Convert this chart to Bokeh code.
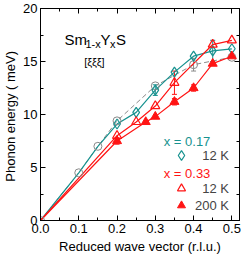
from bokeh.plotting import figure
from bokeh.models import (Range1d, LinearAxis, Label, Legend, LegendItem, Whisker,
                          ColumnDataSource, TeeHead, SingleIntervalTicker, NumeralTickFormatter,
                          CustomJSTickFormatter)
from bokeh.embed import file_html
from bokeh.resources import INLINE

# ---- data ----
q_ref = [0.0, 0.1, 0.15, 0.2, 0.3, 0.4, 0.5]
e_ref = [0.0, 4.5, 7.0, 9.4, 12.7, 14.7, 15.4]
err_ref = [0.0, 0.0, 0.0, 0.0, 0.0, 0.6, 0.0]

q_x17 = [0.2, 0.25, 0.3, 0.35, 0.4, 0.45, 0.5]
e_x17 = [9.1, 10.2, 12.3, 14.0, 15.5, 16.0, 16.2]
err_x17 = [0.0, 0.0, 0.5, 0.0, 0.0, 1.0, 0.0]

q_x33_12 = [0.2, 0.25, 0.3, 0.35, 0.45, 0.5]
e_x33_12 = [8.0, 9.3, 10.8, 13.0, 16.6, 17.0]
err_x33_12 = [0.0, 0.0, 0.0, 1.1, 0.0, 0.0]

q_x33_200 = [0.2, 0.275, 0.3, 0.35, 0.4, 0.45, 0.5]
e_x33_200 = [7.5, 9.3, 9.8, 11.2, 12.5, 14.8, 15.5]
err_x33_200 = [0.3, 0.0, 0.0, 0.3, 0.3, 0.0, 0.0]

x_ticks_label_format = "0.0"
xlabel = "Reduced wave vector (r.l.u.)"
ylabel = "Phonon energy  ( meV)"
series_labels = ["x = 0.17", "x = 0.33"]
temp_labels = ["\u200712 K", "\u200712 K", "200 K"]

TEAL = "#17928f"
RED = "#ff1414"
GRAY = "#8a8a8a"
FONT = "Liberation Sans"

p = figure(width=241, height=256, output_backend="svg", toolbar_location=None,
           x_range=Range1d(0, 0.52), y_range=Range1d(0, 20),
           min_border_left=0, min_border_right=2, min_border_top=8, min_border_bottom=0)
p.grid.visible = False
p.outline_line_color = "black"
p.outline_line_width = 1
p.background_fill_color = "white"

def style_axis(ax, labels=True):
    ax.major_tick_in = 5
    ax.major_tick_out = 0
    ax.minor_tick_in = 3
    ax.minor_tick_out = 0
    ax.axis_line_color = "black"
    ax.major_tick_line_color = "black"
    ax.minor_tick_line_color = "black"
    ax.major_label_text_font = FONT
    ax.major_label_text_font_size = "13px"
    ax.major_label_text_color = "black"
    ax.axis_label_text_font = FONT
    ax.axis_label_text_font_size = "13px"
    ax.axis_label_text_font_style = "normal"
    ax.axis_label_text_color = "black"
    ax.major_label_standoff = 3 if labels else 0
    ax.axis_label_standoff = 3
    if not labels:
        ax.formatter = CustomJSTickFormatter(code="return '';")

p.xaxis.ticker = SingleIntervalTicker(interval=0.1, num_minor_ticks=2)
p.yaxis.ticker = SingleIntervalTicker(interval=5, num_minor_ticks=2)
p.xaxis.formatter = NumeralTickFormatter(format=x_ticks_label_format)
p.xaxis.axis_label = xlabel
p.yaxis.axis_label = ylabel
style_axis(p.xaxis[0])
style_axis(p.yaxis[0])
p.yaxis.axis_label_standoff = 2

ax_top = LinearAxis(ticker=SingleIntervalTicker(interval=0.1, num_minor_ticks=2))
ax_right = LinearAxis(ticker=SingleIntervalTicker(interval=5, num_minor_ticks=2))
style_axis(ax_top, labels=False)
style_axis(ax_right, labels=False)
p.add_layout(ax_top, "above")
p.add_layout(ax_right, "right")

# ---- reference (gray) dashed ----
p.line(q_ref, e_ref, line_color=GRAY, line_dash="5 3", line_width=1)
# ---- lines ----
p.line(q_ref[:3] + q_x17, e_ref[:3] + e_x17, line_color=TEAL, line_width=1.2)
p.line([0.0] + q_x33_12, [0.0] + e_x33_12, line_color=RED, line_width=1.2)
p.line([0.0] + q_x33_200, [0.0] + e_x33_200, line_color=RED, line_width=1.2)

def whisk(q, e, err, color):
    idx = [i for i, v in enumerate(err) if v > 0]
    src = ColumnDataSource(dict(x=[q[i] for i in idx],
                                lo=[e[i] - err[i] for i in idx],
                                hi=[e[i] + err[i] for i in idx]))
    w = Whisker(source=src, base="x", lower="lo", upper="hi", line_color=color, line_width=1,
                lower_head=TeeHead(size=5, line_color=color),
                upper_head=TeeHead(size=5, line_color=color))
    p.add_layout(w)

whisk(q_x17, e_x17, err_x17, TEAL)
whisk(q_x33_12, e_x33_12, err_x33_12, RED)
whisk(q_x33_200, e_x33_200, err_x33_200, RED)
whisk(q_ref, e_ref, err_ref, GRAY)

r_ref = p.scatter(q_ref, e_ref, marker="circle", size=8, fill_color=None, line_color=GRAY, line_width=1)
r17 = p.scatter(q_x17, e_x17, marker="diamond", size=10,
                fill_color="white", fill_alpha=0, line_color=TEAL, line_width=1.2)
r33 = p.scatter(q_x33_12, e_x33_12, marker="triangle", size=9,
                fill_color="white", fill_alpha=0, line_color=RED, line_width=1.2)
r200 = p.scatter(q_x33_200, e_x33_200, marker="triangle", size=9,
                 fill_color=RED, line_color=RED, line_width=1)

# ---- title texts ----
def lab(x, y, text, size, color="black", xo=0, yo=0, align="left", base="alphabetic"):
    p.add_layout(Label(x=x, y=y, x_offset=xo, y_offset=yo, text=text, text_font=FONT,
                       text_font_size=size, text_color=color, text_align=align,
                       text_baseline=base))

TX, TY = 0.0625, 17.1
lab(TX, TY, "Sm", "15px", xo=0)
lab(TX, TY, "1-x", "11px", xo=21, yo=-5)
lab(TX, TY, "Y", "15px", xo=36)
lab(TX, TY, "x", "11px", xo=45.5, yo=-5)
lab(TX, TY, "S", "15px", xo=51.5)
lab(0.141, 15.0, "[ξξξ]", "11px", align="center", base="middle")

lab(0.322, 7.44, series_labels[0], "13px", color=TEAL, base="middle")
lab(0.322, 4.48, series_labels[1], "13px", color=RED, base="middle")

def legend_at(renderer, text, x, y, g):
    lg = Legend(items=[LegendItem(label=text, renderers=[renderer])], location=(x, y),
                glyph_width=g, glyph_height=g, label_standoff=4 - (g - 20) // 2,
                padding=0, margin=0, spacing=0,
                border_line_alpha=0, background_fill_alpha=0, label_text_font=FONT,
                label_text_font_size="13px", label_height=g)
    p.add_layout(lg)

legend_at(r17, temp_labels[0], 129, 53, 24)
legend_at(r33, temp_labels[1], 131, 22, 20)
legend_at(r200, temp_labels[2], 131, 5, 20)

open("out.html", "w").write(file_html(p, INLINE))
